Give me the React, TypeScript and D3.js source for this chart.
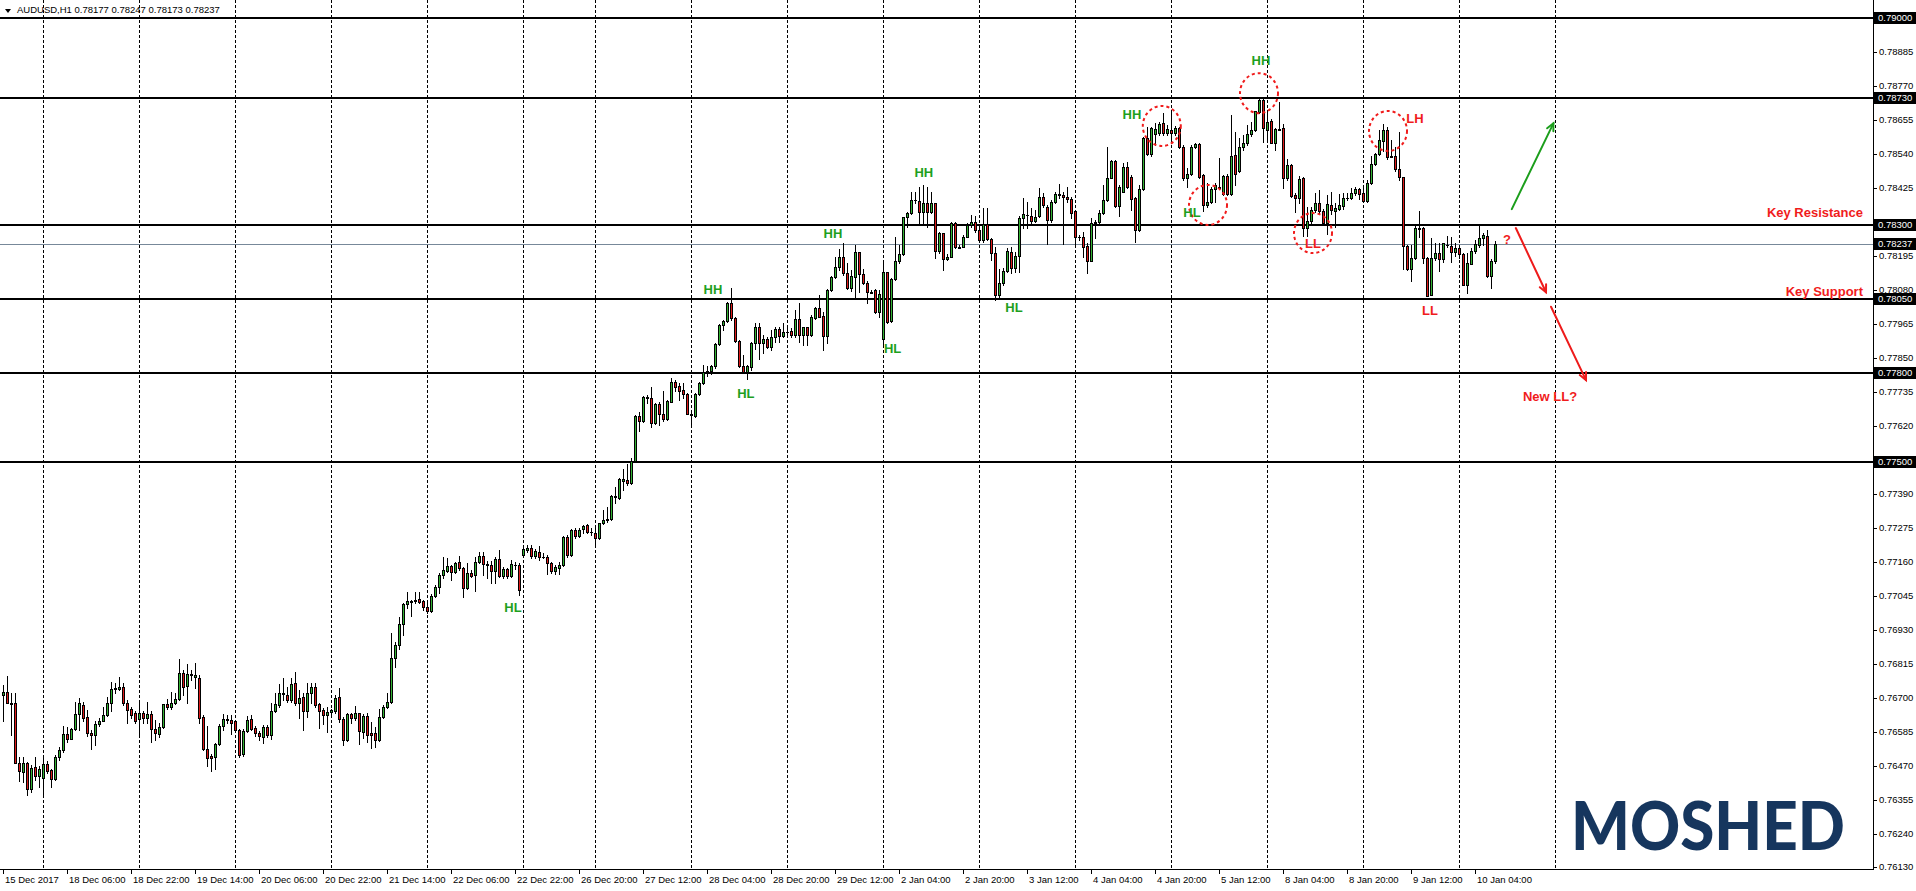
import { useEffect } from 'react'
import * as d3 from 'd3'

// [open, high, low, close] in 1e-5 price units, one hourly bar each
type Bar = [number, number, number, number]

const dec15: Bar[] = [
  [76712, 76746, 76622, 76720], [76721, 76776, 76684, 76684], [76684, 76718, 76577, 76682], [76684, 76718, 76480, 76483],
  [76483, 76501, 76422, 76453], [76452, 76501, 76419, 76481], [76481, 76485, 76372, 76393], [76393, 76475, 76385, 76465],
  [76467, 76503, 76425, 76436], [76436, 76470, 76400, 76462],
]
const dec18: Bar[] = [
  [76432, 76498, 76368, 76477], [76479, 76490, 76447, 76456], [76458, 76460, 76402, 76426], [76426, 76510, 76425, 76502],
  [76501, 76537, 76492, 76526], [76526, 76605, 76520, 76580], [76579, 76603, 76551, 76564], [76564, 76599, 76562, 76596],
  [76596, 76689, 76594, 76648], [76648, 76701, 76594, 76683], [76678, 76689, 76622, 76633], [76637, 76661, 76573, 76582],
  [76582, 76594, 76528, 76576], [76576, 76622, 76543, 76613], [76613, 76633, 76607, 76624], [76624, 76672, 76622, 76644],
  [76644, 76706, 76639, 76685], [76684, 76757, 76656, 76731], [76731, 76751, 76718, 76734], [76733, 76772, 76729, 76738],
  [76738, 76751, 76678, 76686], [76686, 76695, 76618, 76661], [76663, 76670, 76633, 76643], [76650, 76658, 76616, 76625],
]
const dec19: Bar[] = [
  [76631, 76684, 76573, 76650], [76650, 76656, 76616, 76632], [76632, 76689, 76616, 76647], [76647, 76656, 76551, 76596],
  [76596, 76627, 76558, 76582], [76579, 76616, 76571, 76603], [76603, 76681, 76599, 76680], [76680, 76697, 76663, 76670],
  [76670, 76720, 76663, 76684], [76684, 76718, 76681, 76697], [76698, 76832, 76695, 76785], [76785, 76796, 76712, 76740],
  [76742, 76817, 76684, 76783], [76778, 76796, 76763, 76783], [76772, 76819, 76734, 76779], [76768, 76779, 76616, 76635],
  [76636, 76644, 76524, 76528], [76528, 76607, 76470, 76500], [76506, 76511, 76453, 76498], [76501, 76548, 76461, 76545],
  [76545, 76614, 76543, 76607], [76607, 76648, 76594, 76630], [76628, 76644, 76616, 76629], [76628, 76644, 76579, 76616],
]
const dec20: Bar[] = [
  [76622, 76627, 76588, 76594], [76594, 76596, 76503, 76509], [76511, 76596, 76506, 76590], [76590, 76639, 76588, 76627],
  [76630, 76644, 76594, 76598], [76599, 76607, 76573, 76582], [76582, 76590, 76558, 76573], [76570, 76610, 76550, 76602],
  [76602, 76610, 76570, 76576], [76576, 76683, 76563, 76657], [76657, 76717, 76655, 76680], [76678, 76749, 76672, 76717],
  [76714, 76768, 76694, 76719], [76711, 76740, 76689, 76694], [76694, 76768, 76689, 76747], [76751, 76788, 76678, 76683],
  [76683, 76728, 76632, 76700], [76705, 76717, 76593, 76658], [76658, 76751, 76638, 76717], [76717, 76751, 76683, 76740],
  [76740, 76753, 76672, 76678], [76681, 76685, 76599, 76658], [76661, 76666, 76613, 76645], [76645, 76672, 76587, 76654],
]
const dec21: Bar[] = [
  [76654, 76665, 76648, 76660], [76658, 76711, 76649, 76700], [76703, 76734, 76621, 76631], [76631, 76638, 76542, 76559],
  [76559, 76652, 76557, 76646], [76646, 76652, 76616, 76635], [76635, 76674, 76627, 76649], [76649, 76652, 76546, 76591],
  [76588, 76647, 76565, 76640], [76640, 76649, 76554, 76576], [76582, 76621, 76531, 76576], [76582, 76604, 76537, 76559],
  [76559, 76663, 76557, 76638], [76638, 76678, 76632, 76672], [76672, 76717, 76666, 76689], [76689, 76920, 76685, 76835],
  [76835, 76892, 76807, 76879], [76879, 76976, 76866, 76950], [76950, 77021, 76914, 77018], [77018, 77061, 77004, 77029],
  [77027, 77033, 76978, 77030], [77030, 77061, 77024, 77034], [77037, 77061, 77021, 77027], [77028, 77033, 76999, 77010],
]
const dec22: Bar[] = [
  [77008, 77027, 76990, 76995], [76996, 77053, 76993, 77047], [77047, 77083, 77044, 77075], [77075, 77123, 77057, 77117],
  [77117, 77177, 77106, 77134], [77132, 77173, 77128, 77146], [77146, 77151, 77100, 77126], [77126, 77162, 77123, 77159],
  [77160, 77181, 77134, 77142], [77142, 77145, 77042, 77072], [77072, 77157, 77070, 77123], [77123, 77134, 77111, 77115],
  [77117, 77179, 77064, 77160], [77160, 77196, 77157, 77181], [77181, 77196, 77117, 77153], [77153, 77166, 77106, 77152],
  [77151, 77166, 77089, 77132], [77132, 77177, 77089, 77170], [77170, 77202, 77111, 77115], [77115, 77145, 77106, 77136],
  [77136, 77140, 77108, 77115], [77113, 77168, 77111, 77153], [77152, 77162, 77139, 77150], [77151, 77156, 77050, 77067],
]
const dec26: Bar[] = [
  [77184, 77215, 77179, 77204], [77201, 77218, 77196, 77209], [77209, 77220, 77175, 77181], [77181, 77206, 77176, 77198],
  [77196, 77215, 77168, 77179], [77179, 77190, 77173, 77177], [77179, 77184, 77120, 77156], [77158, 77162, 77125, 77131],
  [77131, 77151, 77122, 77145], [77142, 77162, 77122, 77151], [77151, 77249, 77148, 77246], [77246, 77252, 77179, 77184],
  [77184, 77271, 77181, 77269], [77269, 77275, 77241, 77250], [77250, 77275, 77246, 77269], [77271, 77286, 77258, 77282],
  [77285, 77291, 77258, 77263], [77263, 77275, 77252, 77261],
]
const dec27: Bar[] = [
  [77260, 77280, 77221, 77241], [77241, 77294, 77238, 77292], [77292, 77337, 77289, 77303], [77303, 77348, 77297, 77307],
  [77305, 77387, 77303, 77384], [77384, 77416, 77359, 77382], [77378, 77445, 77373, 77440], [77436, 77477, 77404, 77440],
  [77438, 77494, 77421, 77427], [77427, 77511, 77424, 77503], [77503, 77658, 77500, 77654], [77654, 77669, 77605, 77639],
  [77639, 77722, 77635, 77720], [77714, 77725, 77697, 77720], [77714, 77754, 77618, 77630], [77630, 77697, 77627, 77695],
  [77695, 77703, 77624, 77663], [77663, 77740, 77639, 77646], [77643, 77709, 77641, 77706], [77703, 77782, 77701, 77768],
  [77768, 77776, 77740, 77754], [77757, 77765, 77708, 77740], [77742, 77765, 77714, 77728], [77728, 77731, 77661, 77663],
]
const dec28: Bar[] = [
  [77661, 77675, 77627, 77659], [77655, 77731, 77652, 77728], [77728, 77768, 77725, 77765], [77765, 77827, 77763, 77804],
  [77804, 77823, 77790, 77808], [77808, 77827, 77796, 77822], [77822, 77902, 77818, 77898], [77898, 77966, 77895, 77962],
  [77962, 77979, 77945, 77976], [77977, 78040, 77974, 78035], [78035, 78086, 77979, 77985], [77985, 77990, 77906, 77909],
  [77909, 77912, 77821, 77825], [77825, 77861, 77802, 77804], [77804, 77827, 77778, 77822], [77821, 77906, 77810, 77903],
  [77903, 77968, 77881, 77954], [77954, 77968, 77846, 77900], [77900, 77928, 77869, 77914], [77914, 77923, 77883, 77887],
  [77889, 77945, 77878, 77923], [77923, 77957, 77906, 77948], [77948, 77957, 77906, 77926], [77926, 77970, 77923, 77937],
]
const dec29: Bar[] = [
  [77937, 77951, 77923, 77940], [77942, 77951, 77923, 77928], [77928, 78013, 77923, 77981], [77981, 78035, 77906, 77928],
  [77928, 77957, 77895, 77954], [77954, 77957, 77895, 77928], [77928, 77996, 77925, 77990], [77985, 78024, 77982, 78021],
  [78021, 78064, 77988, 77990], [77993, 78007, 77878, 77926], [77926, 78083, 77902, 78080], [78080, 78128, 78078, 78123],
  [78123, 78193, 78120, 78159], [78159, 78218, 78148, 78191], [78191, 78238, 78131, 78137], [78139, 78171, 78083, 78086],
  [78086, 78148, 78078, 78128], [78126, 78233, 78056, 78208], [78208, 78210, 78075, 78135], [78135, 78150, 78101, 78105],
  [78105, 78112, 78038, 78074], [78074, 78081, 78069, 78072], [78080, 78083, 78004, 78007], [78007, 78081, 77990, 78066],
]
const jan2: Bar[] = [
  [77914, 78171, 77891, 78140], [78140, 78142, 77970, 77973], [77977, 78121, 77974, 78118], [78118, 78261, 78114, 78177],
  [78177, 78233, 78171, 78201], [78202, 78328, 78199, 78326], [78326, 78345, 78295, 78340], [78340, 78413, 78337, 78385],
  [78385, 78413, 78374, 78384], [78383, 78430, 78306, 78343], [78343, 78435, 78306, 78376], [78376, 78430, 78295, 78343],
  [78343, 78413, 78340, 78376], [78374, 78376, 78188, 78213], [78213, 78278, 78204, 78272], [78272, 78274, 78148, 78184],
  [78184, 78202, 78182, 78193], [78193, 78312, 78191, 78306], [78306, 78312, 78221, 78225], [78225, 78233, 78221, 78223],
  [78227, 78266, 78225, 78261], [78261, 78306, 78259, 78300], [78300, 78334, 78295, 78312], [78312, 78331, 78278, 78283],
]
const jan3: Bar[] = [
  [78283, 78300, 78244, 78250], [78250, 78357, 78244, 78304], [78304, 78357, 78250, 78253], [78253, 78255, 78182, 78207],
  [78207, 78227, 78047, 78064], [78064, 78150, 78058, 78105], [78103, 78154, 78097, 78146], [78145, 78221, 78142, 78213],
  [78210, 78227, 78137, 78156], [78156, 78210, 78143, 78197], [78197, 78329, 78143, 78325], [78325, 78391, 78289, 78336],
  [78333, 78379, 78289, 78335], [78329, 78357, 78300, 78315], [78315, 78351, 78312, 78326], [78329, 78424, 78327, 78394],
  [78394, 78408, 78362, 78368], [78362, 78368, 78235, 78317], [78317, 78385, 78312, 78377], [78377, 78413, 78374, 78404],
  [78404, 78438, 78391, 78400], [78400, 78413, 78235, 78394], [78394, 78430, 78379, 78387], [78387, 78396, 78325, 78340],
]
const jan4: Bar[] = [
  [78348, 78351, 78227, 78261], [78261, 78265, 78250, 78258], [78261, 78278, 78193, 78227], [78229, 78238, 78137, 78179],
  [78179, 78323, 78177, 78306], [78306, 78317, 78255, 78312], [78310, 78351, 78306, 78342], [78340, 78436, 78338, 78385],
  [78385, 78565, 78382, 78460], [78460, 78520, 78458, 78517], [78515, 78520, 78362, 78366], [78366, 78436, 78329, 78430],
  [78413, 78509, 78411, 78495], [78495, 78512, 78424, 78430], [78464, 78469, 78351, 78388], [78391, 78396, 78242, 78284],
  [78284, 78436, 78280, 78422], [78422, 78599, 78419, 78593], [78593, 78633, 78537, 78539], [78539, 78633, 78535, 78627],
  [78607, 78644, 78571, 78625], [78612, 78648, 78605, 78642], [78644, 78678, 78605, 78612], [78610, 78639, 78605, 78625],
]
const jan5: Bar[] = [
  [78621, 78689, 78582, 78610], [78610, 78635, 78605, 78627], [78627, 78630, 78562, 78565], [78565, 78571, 78453, 78458],
  [78458, 78492, 78430, 78472], [78472, 78571, 78470, 78565], [78565, 78577, 78560, 78573], [78573, 78577, 78458, 78464],
  [78469, 78472, 78346, 78368], [78368, 78441, 78362, 78379], [78377, 78430, 78374, 78422], [78422, 78441, 78379, 78436],
  [78430, 78526, 78422, 78427], [78405, 78469, 78402, 78465], [78465, 78472, 78402, 78405], [78405, 78672, 78402, 78534],
  [78537, 78614, 78436, 78472], [78483, 78596, 78481, 78563], [78563, 78605, 78554, 78579], [78579, 78639, 78571, 78607],
  [78607, 78650, 78602, 78622], [78622, 78686, 78618, 78684], [78681, 78728, 78678, 78723], [78722, 78728, 78582, 78627],
]
const jan8: Bar[] = [
  [78621, 78683, 78582, 78649], [78651, 78660, 78576, 78578], [78578, 78627, 78553, 78624], [78624, 78717, 78621, 78622],
  [78627, 78643, 78427, 78458], [78458, 78525, 78454, 78503], [78503, 78508, 78396, 78399], [78401, 78407, 78345, 78393],
  [78393, 78467, 78373, 78455], [78458, 78463, 78264, 78289], [78289, 78362, 78264, 78314], [78314, 78362, 78305, 78350],
  [78350, 78407, 78345, 78376], [78376, 78418, 78339, 78348], [78347, 78353, 78305, 78308], [78308, 78401, 78269, 78370],
  [78367, 78412, 78339, 78350], [78348, 78373, 78294, 78358], [78356, 78405, 78350, 78367], [78365, 78407, 78356, 78390],
  [78390, 78409, 78384, 78391], [78393, 78424, 78387, 78407], [78410, 78429, 78401, 78421], [78421, 78427, 78387, 78405],
]
const jan9: Bar[] = [
  [78410, 78429, 78379, 78382], [78382, 78452, 78379, 78441], [78441, 78533, 78438, 78508], [78508, 78544, 78503, 78540],
  [78540, 78621, 78536, 78587], [78585, 78643, 78551, 78623], [78623, 78632, 78525, 78529], [78534, 78587, 78529, 78531],
  [78533, 78565, 78483, 78488], [78488, 78615, 78454, 78461], [78461, 78463, 78150, 78230], [78229, 78232, 78148, 78151],
  [78151, 78232, 78112, 78190], [78190, 78303, 78187, 78289], [78289, 78347, 78260, 78287], [78289, 78294, 78172, 78190],
  [78190, 78193, 78060, 78061], [78065, 78255, 78063, 78190], [78190, 78238, 78181, 78204], [78206, 78238, 78145, 78184],
  [78184, 78240, 78176, 78238], [78232, 78263, 78227, 78233], [78230, 78260, 78176, 78210], [78210, 78238, 78195, 78221],
]
const jan10: Bar[] = [
  [78224, 78232, 78189, 78201], [78201, 78206, 78097, 78099], [78099, 78204, 78072, 78172], [78170, 78221, 78168, 78211],
  [78211, 78249, 78204, 78236], [78232, 78298, 78227, 78255], [78255, 78274, 78232, 78266], [78263, 78285, 78125, 78128],
  [78128, 78187, 78086, 78179], [78177, 78247, 78173, 78237],
]

const sessions = [dec15, dec18, dec19, dec20, dec21, dec22, dec26, dec27, dec28, dec29, jan2, jan3, jan4, jan5, jan8, jan9, jan10]

const timeLabels = [
  '15 Dec 2017', '18 Dec 06:00', '18 Dec 22:00', '19 Dec 14:00', '20 Dec 06:00', '20 Dec 22:00', '21 Dec 14:00',
  '22 Dec 06:00', '22 Dec 22:00', '26 Dec 20:00', '27 Dec 12:00', '28 Dec 04:00', '28 Dec 20:00', '29 Dec 12:00',
  '2 Jan 04:00', '2 Jan 20:00', '3 Jan 12:00', '4 Jan 04:00', '4 Jan 20:00', '5 Jan 12:00', '8 Jan 04:00',
  '8 Jan 20:00', '9 Jan 12:00', '10 Jan 04:00',
]
const priceTicks = [
  0.78885, 0.7877, 0.78655, 0.7854, 0.78425, 0.78195, 0.7808, 0.77965, 0.7785, 0.77735, 0.7762, 0.7739, 0.77275,
  0.7716, 0.77045, 0.7693, 0.76815, 0.767, 0.76585, 0.7647, 0.76355, 0.7624, 0.7613,
]
const levels = [0.79, 0.7873, 0.783, 0.7805, 0.778, 0.775]
const bidPrice = 0.78237
const headerText = 'AUDUSD,H1  0.78177 0.78247 0.78173 0.78237'

const GREEN_TXT = '#1ea01e'
const RED_TXT = '#f01c1c'

// swing annotations: bar position (may be fractional / beyond last bar) and price
const swingLabels = [
  { text: 'HL', at: 127.5, price: 0.77009, color: GREEN_TXT },
  { text: 'HH', at: 177.5, price: 0.78084, color: GREEN_TXT },
  { text: 'HL', at: 185.7, price: 0.77732, color: GREEN_TXT },
  { text: 'HH', at: 207.5, price: 0.78273, color: GREEN_TXT },
  { text: 'HL', at: 222.4, price: 0.77884, color: GREEN_TXT },
  { text: 'HH', at: 230.2, price: 0.78477, color: GREEN_TXT },
  { text: 'HL', at: 252.75, price: 0.78023, color: GREEN_TXT },
  { text: 'HH', at: 282.25, price: 0.78675, color: GREEN_TXT },
  { text: 'HL', at: 297.25, price: 0.78343, color: GREEN_TXT },
  { text: 'HH', at: 314.5, price: 0.78855, color: GREEN_TXT },
  { text: 'LL', at: 327.5, price: 0.78239, color: RED_TXT },
  { text: 'LH', at: 353, price: 0.78662, color: RED_TXT },
  { text: 'LL', at: 356.75, price: 0.78013, color: RED_TXT },
  { text: '?', at: 376, price: 0.7825, color: RED_TXT },
  { text: 'New LL?', at: 386.75, price: 0.77722, color: RED_TXT },
]
const levelNotes = [
  { text: 'Key Resistance', at: 465, price: 0.78341 },
  { text: 'Key Support', at: 465, price: 0.78077 },
]
const circles = [
  { at: 289.7, price: 0.78635 },
  { at: 301.25, price: 0.78368 },
  { at: 314, price: 0.78746 },
  { at: 327.5, price: 0.78273 },
  { at: 346.25, price: 0.78618 },
]
const arrows = [
  { from: [377.2, 0.78354], to: [387.6, 0.78644], color: '#1c9e1c' },
  { from: [378.2, 0.7829], to: [385.75, 0.78073], color: '#ee1b1b' },
  { from: [387, 0.78024], to: [395.75, 0.77776], color: '#ee1b1b' },
]

const W = 1916
const H = 891
const PLOT_R = 1873
const PLOT_B = 869
const FONT = '"Liberation Sans", Arial, sans-serif'
const BULL = '#33b233'
const BEAR = '#dd1a1a'

export default function App() {
  useEffect(() => {
    document.body.style.margin = '0'
  }, [])

  const bars: Bar[] = sessions.flat()
  const x = d3.scaleLinear().domain([0, bars.length - 1]).range([3, 3 + 4 * (bars.length - 1)])
  const y = d3.scaleLinear().domain([0.7613, 0.79]).range([867, 18])

  // day separators at the first bar of each session, plus the next (empty) day
  const dayStarts: number[] = []
  let acc = 0
  sessions.forEach((s, k) => {
    if (k > 0) dayStarts.push(acc)
    acc += s.length
  })
  dayStarts.push(dayStarts[dayStarts.length - 1] + 24)

  const py = (p: number) => Math.round(y(p))

  return (
    <svg width={W} height={H} style={{ display: 'block', background: '#fff' }} fontFamily={FONT}>
      <rect width={W} height={H} fill="#fff" />

      {/* day grid */}
      {dayStarts.map(d => (
        <line key={'g' + d} x1={Math.round(x(d)) + 0.5} x2={Math.round(x(d)) + 0.5} y1={0} y2={PLOT_B}
          stroke="#000" strokeDasharray="3,2" />
      ))}

      {/* horizontal levels */}
      {levels.map(l => (
        <line key={'l' + l} x1={0} x2={PLOT_R} y1={py(l)} y2={py(l)} stroke="#000" strokeWidth={2} />
      ))}
      <line x1={0} x2={PLOT_R} y1={py(bidPrice) + 0.5} y2={py(bidPrice) + 0.5} stroke="#778899" />

      {/* candles */}
      {bars.map((b, i) => {
        const [o, h, l, c] = b.map(v => v / 1e5)
        const px = Math.round(x(i))
        const top = py(Math.max(o, c))
        const bot = py(Math.min(o, c))
        return (
          <g key={i}>
            <line x1={px + 0.5} x2={px + 0.5} y1={py(h)} y2={py(l) + 1} stroke="#000" />
            {bot - top < 1 ? (
              <line x1={px - 1} x2={px + 2} y1={top + 0.5} y2={top + 0.5} stroke="#000" />
            ) : (
              <rect x={px - 0.5} y={top + 0.5} width={2} height={bot - top} fill={c >= o ? BULL : BEAR} stroke="#000" />
            )}
          </g>
        )
      })}

      {/* dotted circles */}
      {circles.map((c, i) => (
        <ellipse key={'c' + i} cx={x(c.at)} cy={y(c.price)} rx={19} ry={20} fill="none"
          stroke="#f01c1c" strokeWidth={2} strokeDasharray="3,3" />
      ))}

      {/* arrows */}
      {arrows.map((a, i) => {
        const x1 = x(a.from[0]), y1 = y(a.from[1]), x2 = x(a.to[0]), y2 = y(a.to[1])
        const ang = Math.atan2(y2 - y1, x2 - x1)
        const len = 8
        const b1 = [x2 - len * Math.cos(ang - 0.45), y2 - len * Math.sin(ang - 0.45)]
        const b2 = [x2 - len * Math.cos(ang + 0.45), y2 - len * Math.sin(ang + 0.45)]
        return (
          <g key={'a' + i} stroke={a.color} strokeWidth={2} fill="none" strokeLinecap="round">
            <line x1={x1} y1={y1} x2={x2} y2={y2} />
            <polyline points={`${b1[0]},${b1[1]} ${x2},${y2} ${b2[0]},${b2[1]}`} />
          </g>
        )
      })}

      {/* swing labels */}
      {swingLabels.map((s, i) => (
        <text key={'s' + i} x={x(s.at)} y={y(s.price)} dy="0.35em" textAnchor="middle" fontWeight="bold"
          fontSize={13} fill={s.color}>{s.text}</text>
      ))}
      {levelNotes.map((n, i) => (
        <text key={'n' + i} x={x(n.at)} y={y(n.price)} dy="0.35em" textAnchor="end" fontWeight="bold"
          fontSize={13} fill={RED_TXT}>{n.text}</text>
      ))}

      {/* header */}
      <path d="M5,9 L11,9 L8,13 Z" fill="#000" />
      <text x={17} y={13} fontSize={9.5} fill="#000">{headerText}</text>

      {/* axes frame */}
      <line x1={PLOT_R + 0.5} x2={PLOT_R + 0.5} y1={0} y2={PLOT_B + 1} stroke="#000" />
      <line x1={0} x2={PLOT_R + 1} y1={PLOT_B + 0.5} y2={PLOT_B + 0.5} stroke="#000" />

      {/* price axis */}
      {priceTicks.map(t => (
        <g key={'t' + t}>
          <line x1={PLOT_R} x2={PLOT_R + 4} y1={py(t) + 0.5} y2={py(t) + 0.5} stroke="#000" />
          <text x={PLOT_R + 6} y={py(t)} dy="0.35em" fontSize={9.5} fill="#000">{t.toFixed(5)}</text>
        </g>
      ))}
      {[...levels, bidPrice].map(l => (
        <g key={'b' + l}>
          <rect x={PLOT_R + 1} y={py(l) - 6} width={W - PLOT_R - 1} height={12} fill="#000" />
          <text x={PLOT_R + 5} y={py(l)} dy="0.35em" fontSize={9.5} fill="#fff">{l.toFixed(5)}</text>
        </g>
      ))}

      {/* time axis */}
      {timeLabels.map((t, k) => {
        const px = Math.round(x(k * 16))
        return (
          <g key={'x' + k}>
            <line x1={px + 0.5} x2={px + 0.5} y1={PLOT_B} y2={PLOT_B + 5} stroke="#000" />
            <text x={px + 2} y={PLOT_B + 14} fontSize={9.5} fill="#000">{t}</text>
          </g>
        )
      })}

      {/* logo */}
      <text x={1571} y={850} fontFamily='Lato, "Open Sans", sans-serif' fontWeight={900} fontSize={66}
        fill="#16365e" textLength={274} lengthAdjust="spacingAndGlyphs">MOSHED</text>
    </svg>
  )
}
